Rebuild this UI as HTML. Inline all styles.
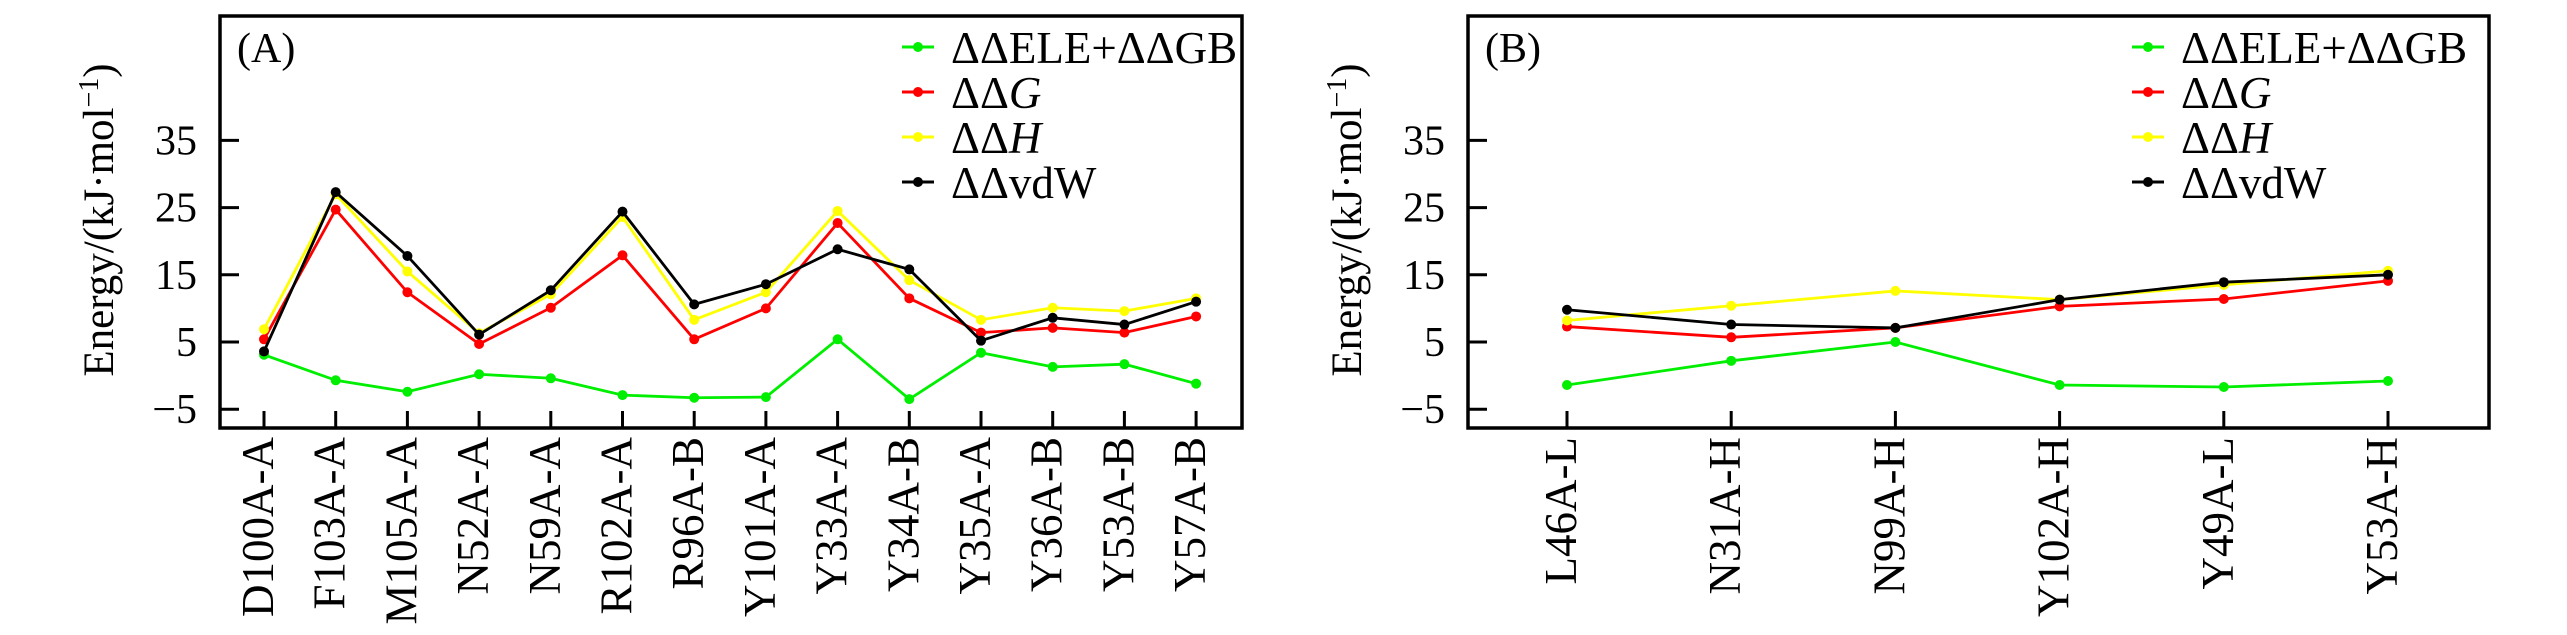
<!DOCTYPE html>
<html><head><meta charset="utf-8"><style>
html,body{margin:0;padding:0;background:#fff;}
svg, svg text, svg tspan{font-family:"Liberation Serif","Times New Roman",Times,serif;}
</style></head><body>
<svg id="chart" width="2567" height="630" viewBox="0 0 2567 630" xmlns="http://www.w3.org/2000/svg" font-family="Liberation Serif, Times New Roman, serif"></svg>
<script>
const catsA = ["D100A-A","F103A-A","M105A-A","N52A-A","N59A-A","R102A-A","R96A-B","Y101A-A","Y33A-A","Y34A-B","Y35A-A","Y36A-B","Y53A-B","Y57A-B"];
const eleA = [3.1,-0.7,-2.4,0.2,-0.4,-2.9,-3.3,-3.2,5.4,-3.5,3.4,1.3,1.7,-1.2];
const dgA  = [5.4,24.7,12.4,4.7,10.1,17.9,5.4,10.0,22.7,11.5,6.4,7.1,6.4,8.8];
const dhA  = [6.9,27.0,15.5,6.3,12.1,23.6,8.3,12.4,24.5,14.2,8.3,10.1,9.6,11.5];
const vdwA = [3.6,27.3,17.8,6.1,12.7,24.4,10.6,13.6,18.8,15.8,5.2,8.6,7.6,11.0];
const catsB = ["L46A-L","N31A-H","N99A-H","Y102A-H","Y49A-L","Y53A-H"];
const eleB = [-1.4,2.2,5.0,-1.4,-1.7,-0.8];
const dgB  = [7.3,5.7,7.1,10.3,11.4,14.1];
const dhB  = [8.2,10.4,12.6,11.3,13.5,15.6];
const vdwB = [9.8,7.6,7.1,11.3,13.9,15.0];
const yTicks = [-5,5,15,25,35];
const yTickLabels = ["\u22125","5","15","25","35"];

const NS="http://www.w3.org/2000/svg";
const FF='Liberation Serif, Times New Roman, serif';
const svg=document.getElementById('chart');
function mk(tag,attrs,parent){const e=document.createElementNS(NS,tag);for(const k in attrs)e.setAttribute(k,attrs[k]);if(tag==='text')e.setAttribute('font-family',FF);(parent||svg).appendChild(e);return e;}

function panel(opt){
  const g=mk('g',{});
  
  
  const y=v=>342-(v-5)*6.72;
  const x=i=>opt.x0+i*opt.dx;
  const frame=mk('rect',{x:opt.left,y:16,width:opt.right-opt.left,height:428-16,fill:'none',stroke:'#000','stroke-width':3.5},g);
  
  
  yTicks.forEach((v,i)=>{
    const t=mk('line',{x1:opt.left,x2:opt.left+19,y1:y(v),y2:y(v),stroke:'#000','stroke-width':3},g);
    
    
    const l=mk('text',{x:opt.left-23,y:y(v)+14,'text-anchor':'end','font-size':42},g);
    l.textContent=yTickLabels[i];
    
    
  });
  opt.cats.forEach((c,i)=>{
    const t=mk('line',{x1:x(i),x2:x(i),y1:428,y2:411,stroke:'#000','stroke-width':3},g);
    
    
    const l=mk('text',{transform:`translate(${x(i)+9},437) rotate(-90)`,'text-anchor':'end','font-size':45},g);
    l.textContent=c;
    
    
  });
  const ttl=mk('text',{transform:`translate(${opt.left-107},220) rotate(-90)`,'text-anchor':'middle','font-size':43},g);
  ttl.innerHTML='Energy/(kJ\u00B7mol<tspan dy="-15" font-size="28">\u22121</tspan><tspan dy="15">)</tspan>';
  
  
  const pl=mk('text',{x:opt.left+17,y:62,'font-size':42},g);
  pl.textContent=opt.label;
  
  
  const series=[
    {vals:opt.ele,color:'#00ee00',name:'series-ele-gb'},
    {vals:opt.dg,color:'#ff0000',name:'series-ddg'},
    {vals:opt.dh,color:'#ffff00',name:'series-ddh'},
    {vals:opt.vdw,color:'#000000',name:'series-ddvdw'}];
  series.forEach(s=>{
    const sg=mk('g',{},g);
    
    
    const pts=s.vals.map((v,i)=>x(i)+','+y(v)).join(' ');
    const ln=mk('polyline',{points:pts,fill:'none',stroke:s.color,'stroke-width':2.8},sg);
    
    
    s.vals.forEach((v,i)=>{
      const c=mk('circle',{cx:x(i),cy:y(v),r:5,fill:s.color},sg);
      
      
    });
  });
  const leg=mk('g',{},g);
  
  
  const legTexts=['\u0394\u0394ELE+\u0394\u0394GB','\u0394\u0394<tspan font-style="italic">G</tspan>','\u0394\u0394<tspan font-style="italic">H</tspan>','\u0394\u0394vdW'];
  series.forEach((s,i)=>{
    const by=63+i*45;
    const e=mk('g',{},leg);
    
    
    mk('line',{x1:opt.legX-16,x2:opt.legX+16,y1:by-16,y2:by-16,stroke:s.color,'stroke-width':3},e);
    mk('circle',{cx:opt.legX,cy:by-16,r:5,fill:s.color},e);
    const t=mk('text',{x:opt.legX+33,y:by,'font-size':45},e);
    t.innerHTML=legTexts[i];
  });
}
panel({name:'panel-a',label:'(A)',left:220,right:1242,x0:264,dx:71.7,cats:catsA,ele:eleA,dg:dgA,dh:dhA,vdw:vdwA,legX:918});
panel({name:'panel-b',label:'(B)',left:1468,right:2489,x0:1567,dx:164.2,cats:catsB,ele:eleB,dg:dgB,dh:dhB,vdw:vdwB,legX:2148});
</script>
</body></html>
